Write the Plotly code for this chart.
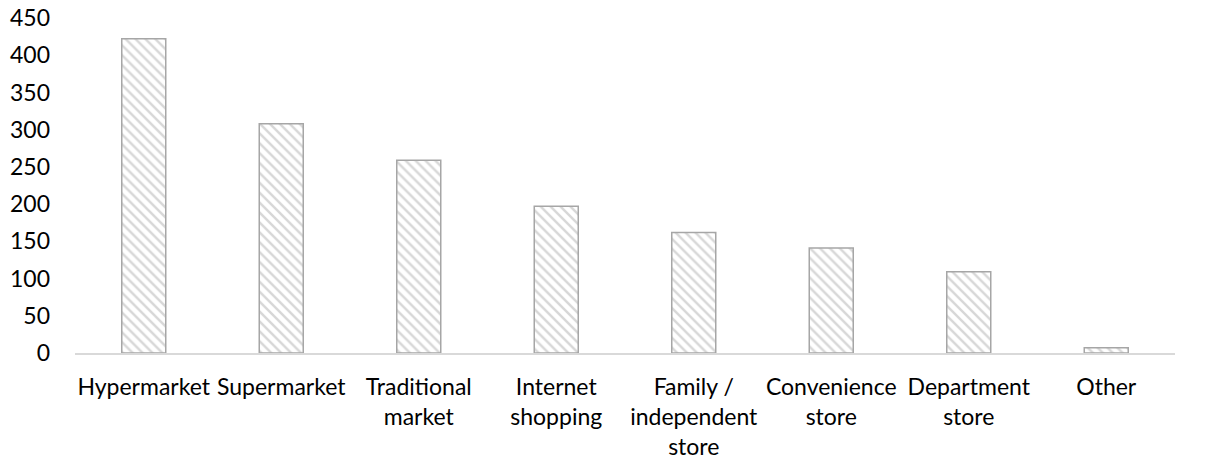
import plotly.graph_objects as go

categories = [
    "Hypermarket",
    "Supermarket",
    "Traditional<br>market",
    "Internet<br>shopping",
    "Family /<br>independent<br>store",
    "Convenience<br>store",
    "Department<br>store",
    "Other",
]
values = [422, 308, 259, 197, 162, 141, 109, 7]
y_ticks = [0, 50, 100, 150, 200, 250, 300, 350, 400, 450]

FONT = "Lato, Calibri, Carlito, sans-serif"

fig = go.Figure(
    go.Bar(
        x=categories,
        y=values,
        width=0.32,
        marker=dict(
            color="white",
            line=dict(color="#A6A6A6", width=1.5),
            pattern=dict(
                shape="\\",
                fgcolor="#B0B0B0",
                bgcolor="white",
                size=7,
                solidity=0.35,
            ),
        ),
        hoverinfo="x+y",
    )
)

fig.update_layout(
    width=1205,
    height=463,
    margin=dict(l=75, r=30, t=18, b=110),
    plot_bgcolor="white",
    paper_bgcolor="white",
    showlegend=False,
    font=dict(family=FONT, size=23, color="#000000"),
    xaxis=dict(
        automargin=False,
        showline=True,
        linecolor="#D9D9D9",
        linewidth=1.5,
        showgrid=False,
        ticks="",
        tickfont=dict(size=23),
        ticklabelstandoff=13,
    ),
    yaxis=dict(
        automargin=False,
        range=[0, 450],
        tickvals=y_ticks,
        showline=False,
        showgrid=False,
        zeroline=False,
        ticks="",
        tickfont=dict(size=23),
        ticklabelstandoff=24,
    ),
)

fig.write_html("out.html")
